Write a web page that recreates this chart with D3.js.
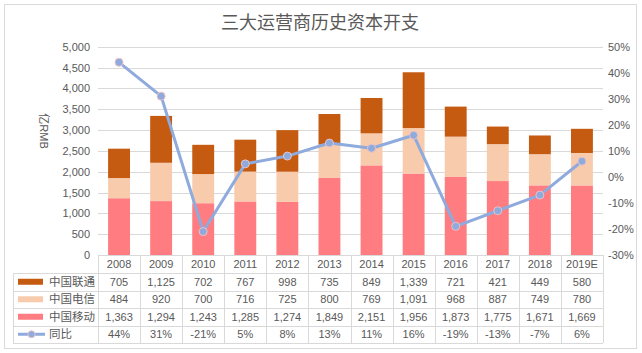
<!DOCTYPE html>
<html><head><meta charset="utf-8">
<script src="https://cdn.jsdelivr.net/npm/d3@7"></script>
<style>
body{margin:0;background:#fff;}
svg text{font-family:"Liberation Sans","Noto Sans CJK SC",sans-serif;fill:#595959;}
</style></head>
<body><svg id="c" width="642" height="353"></svg>
<script>
const years = ["2008","2009","2010","2011","2012","2013","2014","2015","2016","2017","2018","2019E"];
const unicom = [705,1125,702,767,998,735,849,1339,721,421,449,580];
const telecom = [484,920,700,716,725,800,769,1091,968,887,749,780];
const mobile = [1363,1294,1243,1285,1274,1849,2151,1956,1873,1775,1671,1669];
const yoy = [44,31,-21,5,8,13,11,16,-19,-13,-7,6];
const leftTicks = [0,500,1000,1500,2000,2500,3000,3500,4000,4500,5000];
const rightTicks = [-30,-20,-10,0,10,20,30,40,50];
const seriesNames = ["中国联通","中国电信","中国移动","同比"];
const colors = {"中国联通":"#C55A11","中国电信":"#F8CBAD","中国移动":"#FF7C80","同比":"#8FAADC"};

const svg = d3.select("#c");
const L = 98, R = 603, T = 46.7, B = 255;
svg.append("rect").attr("x",4.5).attr("y",4.5).attr("width",632).attr("height",344)
  .attr("fill","#fff").attr("stroke","#D9D9D9");

svg.append("text").attr("x",320).attr("y",29).attr("text-anchor","middle")
  .style("font-size","18px").style("font-family","'Noto Sans CJK SC',sans-serif").text("三大运营商历史资本开支");

const x = d3.scaleBand().domain(years).range([L,R]).paddingInner(0.48).paddingOuter(0.24);
const xs = d3.scaleBand().domain(years).range([L,R]);
const y = d3.scaleLinear().domain([0,5000]).range([B,T]);
const y2 = d3.scaleLinear().domain([-30,50]).range([B,T]);

// gridlines
svg.append("g").selectAll("line").data(leftTicks.filter(d=>d>0)).join("line")
  .attr("x1",L).attr("x2",R).attr("y1",d=>Math.round(y(d))+0.5).attr("y2",d=>Math.round(y(d))+0.5)
  .attr("stroke","#D9D9D9");

// left axis
const ga = svg.append("g").attr("transform",`translate(${L},0)`)
  .call(d3.axisLeft(y).tickValues(leftTicks).tickSize(0).tickPadding(8).tickFormat(d3.format(",")));
ga.select(".domain").remove();
ga.selectAll("text").style("font-size","11px").style("fill","#595959");
const gb = svg.append("g").attr("transform",`translate(${R},0)`)
  .call(d3.axisRight(y2).tickValues(rightTicks).tickSize(0).tickPadding(5).tickFormat(d=>d+"%"));
gb.select(".domain").remove();
gb.selectAll("text").style("font-size","11px").style("fill","#595959");

svg.append("text").attr("transform","translate(40,131) rotate(90)").attr("text-anchor","middle")
  .style("font-size","11px").text("亿RMB");

// stacked bars
const rows = years.map((yr,i)=>({year:yr,"中国移动":mobile[i],"中国电信":telecom[i],"中国联通":unicom[i]}));
const stack = d3.stack().keys(["中国移动","中国电信","中国联通"])(rows);
svg.append("g").selectAll("g").data(stack).join("g").attr("fill",d=>colors[d.key])
  .selectAll("rect").data(d=>d).join("rect")
  .attr("x",d=>x(d.data.year)).attr("width",x.bandwidth())
  .attr("y",d=>y(d[1])).attr("height",d=>y(d[0])-y(d[1]));

// line
const cx = d=>x(d)+x.bandwidth()/2;
svg.append("path").datum(years.map((yr,i)=>[cx(yr),y2(yoy[i])]))
  .attr("d",d3.line()).attr("fill","none").attr("stroke",colors["同比"]).attr("stroke-width",3)
  .attr("stroke-linejoin","round");
svg.append("g").selectAll("circle").data(years).join("circle")
  .attr("cx",d=>cx(d)).attr("cy",(d,i)=>y2(yoy[i])).attr("r",4)
  .attr("fill",colors["同比"]).attr("stroke","#E9C2C8").attr("stroke-width",1);

// data table
const rowY = [255,273,290.5,308,325.5,343];
const tb = svg.append("g").attr("stroke","#D9D9D9").attr("fill","none");
tb.append("line").attr("x1",L).attr("x2",R).attr("y1",rowY[0]+0.5).attr("y2",rowY[0]+0.5);
rowY.slice(1).forEach(v=>tb.append("line").attr("x1",13).attr("x2",R).attr("y1",Math.round(v)+0.5).attr("y2",Math.round(v)+0.5));
tb.append("line").attr("x1",13.5).attr("x2",13.5).attr("y1",273).attr("y2",343);
years.forEach((yr,i)=>{
  const xv = Math.round(xs(yr))+0.5;
  tb.append("line").attr("x1",xv).attr("x2",xv).attr("y1",255).attr("y2",343);
});
tb.append("line").attr("x1",R+0.5).attr("x2",R+0.5).attr("y1",255).attr("y2",343);

const fmt = d3.format(",");
const cellRows = [years, unicom.map(fmt), telecom.map(fmt), mobile.map(fmt), yoy.map(d=>d+"%")];
cellRows.forEach((r,ri)=>{
  svg.append("g").selectAll("text").data(r).join("text")
    .attr("x",(d,i)=>xs(years[i])+xs.bandwidth()/2)
    .attr("y",(rowY[ri]+rowY[ri+1])/2+4)
    .attr("text-anchor","middle").style("font-size","11px").text(d=>d);
});
// legend keys
seriesNames.forEach((s,i)=>{
  const cy = (rowY[i+1]+rowY[i+2])/2;
  if(s==="同比"){
    svg.append("line").attr("x1",18).attr("x2",45).attr("y1",cy).attr("y2",cy)
      .attr("stroke",colors[s]).attr("stroke-width",3);
    svg.append("circle").attr("cx",31.5).attr("cy",cy).attr("r",3.5).attr("fill",colors[s]).attr("stroke","#E9C2C8");
  } else {
    svg.append("rect").attr("x",18).attr("y",cy-3).attr("width",25).attr("height",6).attr("fill",colors[s]);
  }
  svg.append("text").attr("x",49).attr("y",cy+4).style("font-size","11.5px")
    .style("font-family","'Noto Sans CJK SC',sans-serif").text(s);
});
</script></body></html>
